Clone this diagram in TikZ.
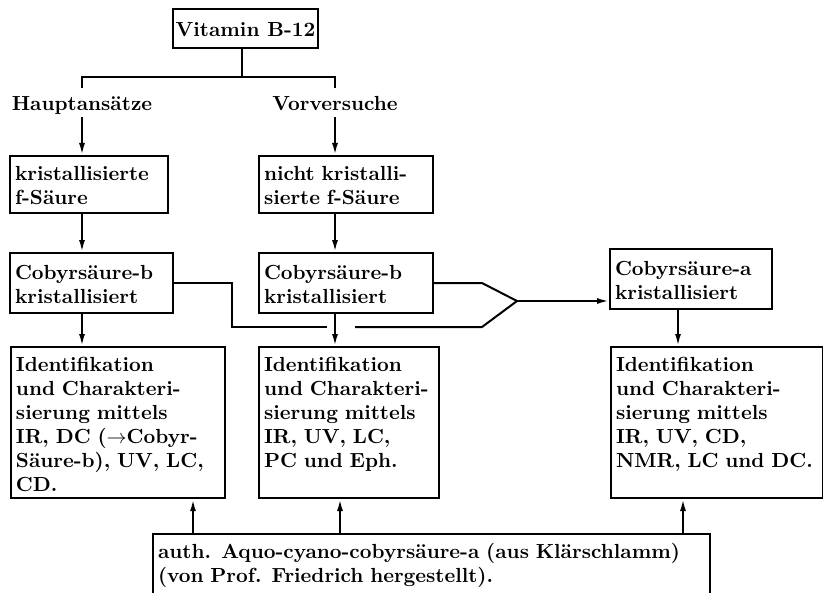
\documentclass[tikz,border=0pt]{standalone}
\usepackage{tikz}
\usetikzlibrary{arrows.meta}
\tikzset{
  cbox/.style={draw,line width=1pt,anchor=north west,align=left,
    inner xsep=2.5pt,inner ysep=3.5pt,text height=8.5pt,
    font=\fontsize{10.2}{12}\selectfont\bfseries},
  lbl/.style={inner sep=3pt,text height=8.5pt,text depth=0pt,
    font=\fontsize{10.2}{12}\selectfont\bfseries},
  ln/.style={line width=1pt},
  arr/.style={-{Latex[length=6pt,width=3pt]},line width=1pt},
}

\begin{document}
\begin{tikzpicture}[x=0.5pt,y=-0.5pt]
  \clip (0,0) rectangle (823,593);
  % source and the two series
  \node[cbox,anchor=center,minimum width=72.5pt,minimum height=19.5pt,
    inner xsep=1pt,text depth=0pt] (vit) at (245.5,28.5) {Vitamin B-12};
  \node[lbl] (hpt) at (82,102.5) {Hauptansätze};
  \node[lbl] (vorv) at (335,102.5) {Vorversuche};
  \coordinate (br) at (242,77);
  \draw[ln] (vit.south -| br) -- (br);
  \draw[ln] (hpt.north) |- (br) -| (vorv.north);

  % f-acid
  \node[cbox,text width=74pt,minimum height=28.5pt] (kf) at (9,155) {kristallisierte\\f-Säure};
  \node[cbox,text width=82pt,minimum height=28.5pt] (nkf) at (258,155) {nicht kristalli-\\sierte f-Säure};
  \draw[arr] (hpt) -- (kf.north -| hpt);
  \draw[arr] (vorv) -- (nkf.north -| vorv);

  % cobyric acids
  \node[cbox,text width=76.5pt,minimum height=30pt] (cbL) at (9,252) {Cobyrsäure-b\\kristallisiert};
  \node[cbox,text width=82pt,minimum height=30pt] (cbM) at (258,252) {Cobyrsäure-b\\kristallisiert};
  \node[cbox,text width=76pt,minimum height=30pt] (cbA) at (609,248) {Cobyrsäure-a\\kristallisiert};
  \draw[arr] (kf.south -| hpt) -- (cbL.north -| hpt);
  \draw[arr] (nkf.south -| vorv) -- (cbM.north -| vorv);

  % both b-acids merge into the a-acid
  \coordinate (kL) at (232,327);
  \coordinate (gL) at (327,327);
  \coordinate (gR) at (355,327);
  \coordinate (jB) at (482,327);
  \coordinate (mg) at (517,301);
  \draw[ln] (cbL.east) -| (kL) -- (gL);
  \draw[ln] (gR) -- (jB) -- (mg);
  \draw[ln] (cbM.east) -- (cbM.east -| jB) -- (mg);
  \draw[arr] (mg) -- (mg -| cbA.west);

  % identification
  \node[cbox,text width=102pt] (idL) at (10,346)
    {Identifikation\\und Charakteri-\\sierung mittels\\IR, DC ($\rightarrow$Cobyr-\\Säure-b), UV, LC,\\CD.};
  \node[cbox,text width=85pt] (idM) at (258,346)
    {Identifikation\\und Charakteri-\\sierung mittels\\IR, UV, LC,\\PC und Eph.\\\mbox{}};
  \node[cbox,text width=101pt] (idA) at (610,346)
    {Identifikation\\und Charakteri-\\sierung mittels\\IR, UV, CD,\\NMR, LC und DC.\\\mbox{}};
  \draw[arr] (cbL.south -| hpt) -- (idL.north -| hpt);
  \draw[arr] (cbM.south -| vorv) -- (idM.north -| vorv);
  \draw[arr] ([xshift=-6.5pt]cbA.south) -- ([xshift=-6.5pt]cbA.south |- idA.north);

  % reference sample
  \node[cbox,text width=273.5pt] (auth) at (152,533)
    {auth. Aquo-cyano-cobyrsäure-a (aus Klärschlamm)\\(von Prof. Friedrich hergestellt).\\\mbox{}};
  \foreach \xx/\nd in {193/idL,340/idM,683/idA}{
    \coordinate (t) at (\xx,0);
    \draw[arr] (auth.north -| t) -- (\nd.south -| t);
  }
\end{tikzpicture}
\end{document}
